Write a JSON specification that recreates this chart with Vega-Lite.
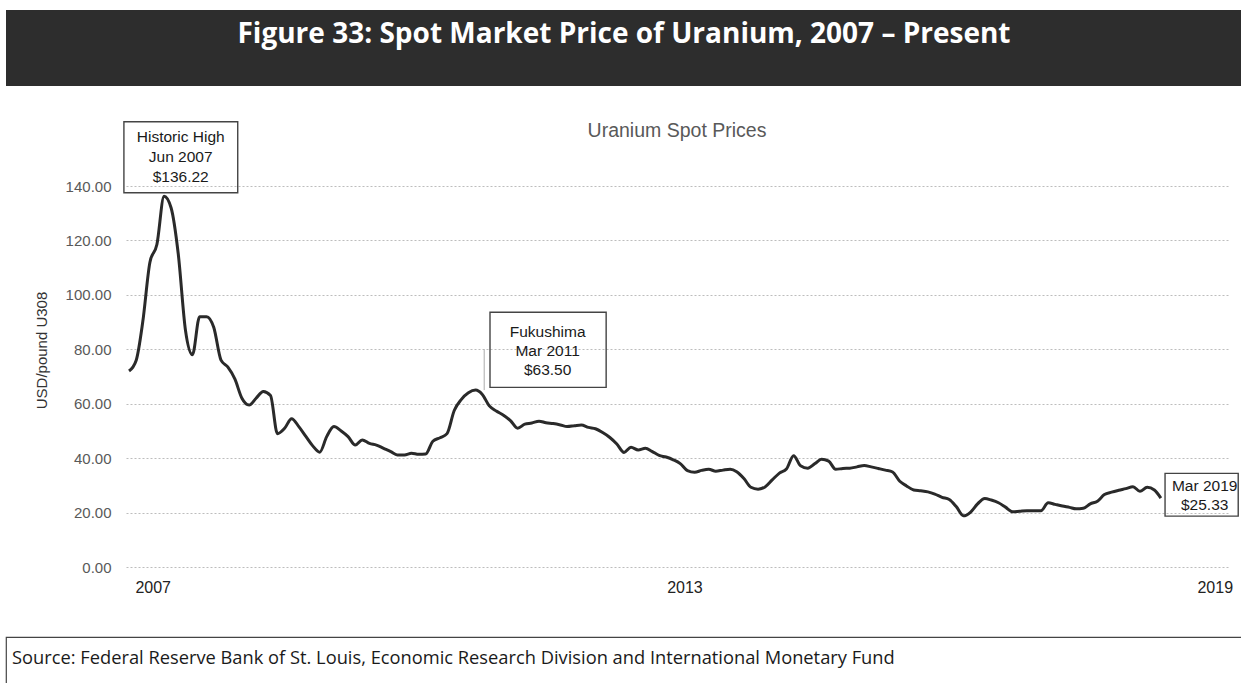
{
  "$schema": "https://vega.github.io/schema/vega-lite/v6.json",
  "padding": {"left": 5, "top": 10, "right": 0, "bottom": 0},
  "background": "white",
  "config": {"view": {"stroke": null}, "font": "Liberation Sans"},
  "datasets": {
    "header": [{"text": "Figure 33: Spot Market Price of Uranium, 2007 – Present"}],
    "notes": [
      {"event": "high", "date": "2007-06-01", "price": 136.22, "label": "Historic High\nJun 2007\n$136.22"},
      {"event": "fukushima", "date": "2011-03-01", "price": 63.5, "label": "Fukushima\nMar 2011\n$63.50"},
      {"event": "latest", "date": "2019-03-01", "price": 25.33, "label": "Mar 2019\n$25.33"}
    ],
    "prices": [
      {"date": "2007-01-01", "price": 72.0}, {"date": "2007-02-01", "price": 76.0}, {"date": "2007-03-01", "price": 90.0},
      {"date": "2007-04-01", "price": 112.0}, {"date": "2007-05-01", "price": 118.5}, {"date": "2007-06-01", "price": 136.22},
      {"date": "2007-07-01", "price": 132.0}, {"date": "2007-08-01", "price": 115.0}, {"date": "2007-09-01", "price": 87.0},
      {"date": "2007-10-01", "price": 78.0}, {"date": "2007-11-01", "price": 92.0}, {"date": "2007-12-01", "price": 92.0},
      {"date": "2008-01-01", "price": 88.0}, {"date": "2008-02-01", "price": 76.0}, {"date": "2008-03-01", "price": 73.5},
      {"date": "2008-04-01", "price": 69.0}, {"date": "2008-05-01", "price": 62.0}, {"date": "2008-06-01", "price": 59.5},
      {"date": "2008-07-01", "price": 62.0}, {"date": "2008-08-01", "price": 64.5}, {"date": "2008-09-01", "price": 63.0},
      {"date": "2008-10-01", "price": 49.0}, {"date": "2008-11-01", "price": 51.0}, {"date": "2008-12-01", "price": 54.5},
      {"date": "2009-01-01", "price": 51.6}, {"date": "2009-02-01", "price": 47.9}, {"date": "2009-03-01", "price": 44.6},
      {"date": "2009-04-01", "price": 42.2}, {"date": "2009-05-01", "price": 47.9}, {"date": "2009-06-01", "price": 51.6},
      {"date": "2009-07-01", "price": 50.1}, {"date": "2009-08-01", "price": 47.9}, {"date": "2009-09-01", "price": 44.8},
      {"date": "2009-10-01", "price": 46.7}, {"date": "2009-11-01", "price": 45.4}, {"date": "2009-12-01", "price": 44.8},
      {"date": "2010-01-01", "price": 43.6}, {"date": "2010-02-01", "price": 42.4}, {"date": "2010-03-01", "price": 41.2},
      {"date": "2010-04-01", "price": 41.2}, {"date": "2010-05-01", "price": 41.8}, {"date": "2010-06-01", "price": 41.4},
      {"date": "2010-07-01", "price": 41.5}, {"date": "2010-08-01", "price": 46.2}, {"date": "2010-09-01", "price": 47.5},
      {"date": "2010-10-01", "price": 49.0}, {"date": "2010-11-01", "price": 57.5}, {"date": "2010-12-01", "price": 61.5},
      {"date": "2011-01-01", "price": 64.0}, {"date": "2011-02-01", "price": 65.0}, {"date": "2011-03-01", "price": 63.5},
      {"date": "2011-04-01", "price": 59.2}, {"date": "2011-05-01", "price": 57.3}, {"date": "2011-06-01", "price": 55.8},
      {"date": "2011-07-01", "price": 53.8}, {"date": "2011-08-01", "price": 51.0}, {"date": "2011-09-01", "price": 52.5},
      {"date": "2011-10-01", "price": 52.9}, {"date": "2011-11-01", "price": 53.6}, {"date": "2011-12-01", "price": 53.0},
      {"date": "2012-01-01", "price": 52.7}, {"date": "2012-02-01", "price": 52.2}, {"date": "2012-03-01", "price": 51.6},
      {"date": "2012-04-01", "price": 51.9}, {"date": "2012-05-01", "price": 52.2}, {"date": "2012-06-01", "price": 51.3},
      {"date": "2012-07-01", "price": 50.8}, {"date": "2012-08-01", "price": 49.4}, {"date": "2012-09-01", "price": 47.6},
      {"date": "2012-10-01", "price": 45.2}, {"date": "2012-11-01", "price": 42.1}, {"date": "2012-12-01", "price": 44.0},
      {"date": "2013-01-01", "price": 43.0}, {"date": "2013-02-01", "price": 43.6}, {"date": "2013-03-01", "price": 42.5},
      {"date": "2013-04-01", "price": 41.0}, {"date": "2013-05-01", "price": 40.4}, {"date": "2013-06-01", "price": 39.4},
      {"date": "2013-07-01", "price": 38.0}, {"date": "2013-08-01", "price": 35.4}, {"date": "2013-09-01", "price": 34.8},
      {"date": "2013-10-01", "price": 35.5}, {"date": "2013-11-01", "price": 35.9}, {"date": "2013-12-01", "price": 35.2},
      {"date": "2014-01-01", "price": 35.6}, {"date": "2014-02-01", "price": 35.9}, {"date": "2014-03-01", "price": 35.0},
      {"date": "2014-04-01", "price": 32.5}, {"date": "2014-05-01", "price": 29.3}, {"date": "2014-06-01", "price": 28.6},
      {"date": "2014-07-01", "price": 29.4}, {"date": "2014-08-01", "price": 32.0}, {"date": "2014-09-01", "price": 34.5},
      {"date": "2014-10-01", "price": 36.0}, {"date": "2014-11-01", "price": 40.9}, {"date": "2014-12-01", "price": 37.2},
      {"date": "2015-01-01", "price": 36.3}, {"date": "2015-02-01", "price": 38.0}, {"date": "2015-03-01", "price": 39.6},
      {"date": "2015-04-01", "price": 38.9}, {"date": "2015-05-01", "price": 35.9}, {"date": "2015-06-01", "price": 36.2},
      {"date": "2015-07-01", "price": 36.3}, {"date": "2015-08-01", "price": 36.8}, {"date": "2015-09-01", "price": 37.3},
      {"date": "2015-10-01", "price": 36.8}, {"date": "2015-11-01", "price": 36.2}, {"date": "2015-12-01", "price": 35.6},
      {"date": "2016-01-01", "price": 34.9}, {"date": "2016-02-01", "price": 31.5}, {"date": "2016-03-01", "price": 29.8},
      {"date": "2016-04-01", "price": 28.3}, {"date": "2016-05-01", "price": 28.0}, {"date": "2016-06-01", "price": 27.6},
      {"date": "2016-07-01", "price": 26.8}, {"date": "2016-08-01", "price": 25.6}, {"date": "2016-09-01", "price": 24.8},
      {"date": "2016-10-01", "price": 22.2}, {"date": "2016-11-01", "price": 18.8}, {"date": "2016-12-01", "price": 20.1},
      {"date": "2017-01-01", "price": 23.2}, {"date": "2017-02-01", "price": 25.2}, {"date": "2017-03-01", "price": 24.6},
      {"date": "2017-04-01", "price": 23.6}, {"date": "2017-05-01", "price": 22.0}, {"date": "2017-06-01", "price": 20.3},
      {"date": "2017-07-01", "price": 20.5}, {"date": "2017-08-01", "price": 20.7}, {"date": "2017-09-01", "price": 20.7},
      {"date": "2017-10-01", "price": 20.7}, {"date": "2017-11-01", "price": 23.6}, {"date": "2017-12-01", "price": 23.0},
      {"date": "2018-01-01", "price": 22.4}, {"date": "2018-02-01", "price": 21.9}, {"date": "2018-03-01", "price": 21.4},
      {"date": "2018-04-01", "price": 21.6}, {"date": "2018-05-01", "price": 23.2}, {"date": "2018-06-01", "price": 24.2},
      {"date": "2018-07-01", "price": 26.6}, {"date": "2018-08-01", "price": 27.5}, {"date": "2018-09-01", "price": 28.2},
      {"date": "2018-10-01", "price": 28.8}, {"date": "2018-11-01", "price": 29.5}, {"date": "2018-12-01", "price": 27.8},
      {"date": "2019-01-01", "price": 29.3}, {"date": "2019-02-01", "price": 28.3}, {"date": "2019-03-01", "price": 25.33}
    ]
  },
  "spacing": 34,
  "vconcat": [
    {
      "width": 1236,
      "height": 76,
      "view": {"fill": "#2d2d2d", "stroke": null},
      "data": {"name": "header"},
      "mark": {"type": "text", "color": "white", "font": "Open Sans", "fontWeight": "bold", "fontSize": 28, "baseline": "middle", "align": "center", "dy": -13},
      "encoding": {"text": {"field": "text", "type": "nominal"}}
    },
    {
      "spacing": 0,
      "hconcat": [
        {
          "width": 28,
          "height": 416,
          "data": {"values": []},
          "mark": {"type": "point", "opacity": 0},
          "encoding": {}
        },
        {
          "width": 1102,
          "height": 381,
          "title": {"text": "Uranium Spot Prices", "font": "Liberation Sans", "fontSize": 19.5, "fontWeight": "normal", "color": "#595959", "offset": -20, "anchor": "middle", "frame": "group"},
          "layer": [
            {
              "data": {"name": "prices"},
              "mark": {"type": "line", "color": "#2a2a2a", "strokeWidth": 3, "interpolate": "monotone"},
              "encoding": {
                "x": {
                  "field": "date", "type": "temporal",
                  "scale": {"type": "utc", "domain": [{"year": 2006, "month": 12, "date": 19, "utc": true}, {"year": 2019, "month": 12, "date": 15, "utc": true}]},
                  "axis": {
                    "values": [{"year": 2007, "month": 4, "date": 13, "utc": true}, {"year": 2013, "month": 7, "date": 19, "utc": true}, {"year": 2019, "month": 10, "date": 19, "utc": true}],
                    "format": "%Y", "domain": false, "ticks": false, "tickSize": 0, "grid": false, "labelPadding": 12,
                    "labelFont": "Liberation Sans", "labelFontSize": 16, "labelColor": "#222222",
                    "labelFlush": false, "labelOverlap": false, "labelBound": false, "title": null
                  }
                },
                "y": {
                  "field": "price", "type": "quantitative",
                  "scale": {"domain": [0, 140], "nice": false, "zero": true},
                  "axis": {
                    "values": [0, 20, 40, 60, 80, 100, 120, 140], "format": ".2f", "domain": false, "ticks": false, "tickSize": 0,
                    "labelPadding": 15, "labelFont": "Liberation Sans", "labelFontSize": 15, "labelColor": "#595959",
                    "grid": true, "gridColor": "#bdbdbd", "gridDash": [2, 2], "gridWidth": 1,
                    "title": "USD/pound U308", "titleFont": "Liberation Sans", "titleFontSize": 15, "titleFontWeight": "normal",
                    "titleColor": "#333333", "titlePadding": 16, "titleY": 164
                  }
                }
              }
            },
            {
              "data": {"name": "notes"},
              "transform": [{"filter": "datum.event === 'high'"}],
              "layer": [
                {
                  "mark": {"type": "rect", "filled": false, "stroke": "#444444", "strokeWidth": 1.4},
                  "encoding": {
                    "x": {"datum": {"year": 2006, "month": 12, "date": 10, "utc": true}, "type": "temporal"},
                    "x2": {"datum": {"year": 2008, "month": 4, "date": 13, "utc": true}},
                    "y": {"datum": 163.6, "type": "quantitative"},
                    "y2": {"datum": 137.5}
                  }
                },
                {
                  "mark": {"type": "text", "font": "Liberation Sans", "fontSize": 15.5, "color": "#1a1a1a", "align": "center", "baseline": "middle", "lineBreak": "\n", "lineHeight": 20, "dx": 16.6, "dy": -59.6},
                  "encoding": {
                    "x": {"field": "date", "type": "temporal"},
                    "y": {"field": "price", "type": "quantitative"},
                    "text": {"field": "label", "type": "nominal"}
                  }
                }
              ]
            },
            {
              "data": {"name": "notes"},
              "transform": [{"filter": "datum.event === 'fukushima'"}],
              "layer": [
                {
                  "mark": {"type": "rule", "color": "#aaaaaa", "strokeWidth": 1},
                  "encoding": {
                    "x": {"datum": {"year": 2011, "month": 3, "date": 10, "utc": true}, "type": "temporal"},
                    "y": {"datum": 65, "type": "quantitative"},
                    "y2": {"datum": 80}
                  }
                },
                {
                  "mark": {"type": "rect", "filled": false, "stroke": "#444444", "strokeWidth": 1.4},
                  "encoding": {
                    "x": {"datum": {"year": 2011, "month": 4, "date": 4, "utc": true}, "type": "temporal"},
                    "x2": {"datum": {"year": 2012, "month": 8, "date": 16, "utc": true}},
                    "y": {"datum": 93.6, "type": "quantitative"},
                    "y2": {"datum": 66.0}
                  }
                },
                {
                  "mark": {"type": "text", "font": "Liberation Sans", "fontSize": 15.5, "color": "#1a1a1a", "align": "center", "baseline": "middle", "lineBreak": "\n", "lineHeight": 19, "dx": 65.5, "dy": -62.5},
                  "encoding": {
                    "x": {"field": "date", "type": "temporal"},
                    "y": {"field": "price", "type": "quantitative"},
                    "text": {"field": "label", "type": "nominal"}
                  }
                }
              ]
            },
            {
              "data": {"name": "notes"},
              "transform": [{"filter": "datum.event === 'latest'"}],
              "layer": [
                {
                  "mark": {"type": "rect", "filled": false, "stroke": "#444444", "strokeWidth": 1.4},
                  "encoding": {
                    "x": {"datum": {"year": 2019, "month": 3, "date": 19, "utc": true}, "type": "temporal"},
                    "x2": {"datum": {"year": 2020, "month": 1, "date": 28, "utc": true}},
                    "y": {"datum": 34.4, "type": "quantitative"},
                    "y2": {"datum": 18.7}
                  }
                },
                {
                  "mark": {"type": "text", "font": "Liberation Sans", "fontSize": 15.5, "color": "#1a1a1a", "align": "center", "baseline": "middle", "lineBreak": "\n", "lineHeight": 19, "dx": 43.8, "dy": -12.1},
                  "encoding": {
                    "x": {"field": "date", "type": "temporal"},
                    "y": {"field": "price", "type": "quantitative"},
                    "text": {"field": "label", "type": "nominal"}
                  }
                }
              ]
            }
          ]
        }
      ]
    },
    {
      "width": 1236,
      "height": 47,
      "view": {"stroke": "#444444", "strokeWidth": 1.2, "fill": null},
      "title": {"text": "Source: Federal Reserve Bank of St. Louis, Economic Research Division and International Monetary Fund", "anchor": "start", "orient": "top", "frame": "group", "offset": -31, "dx": 6, "font": "Open Sans", "fontSize": 18.3, "fontWeight": "normal", "color": "#1a1a1a"},
      "data": {"values": []},
      "mark": {"type": "point", "opacity": 0},
      "encoding": {}
    }
  ]
}
